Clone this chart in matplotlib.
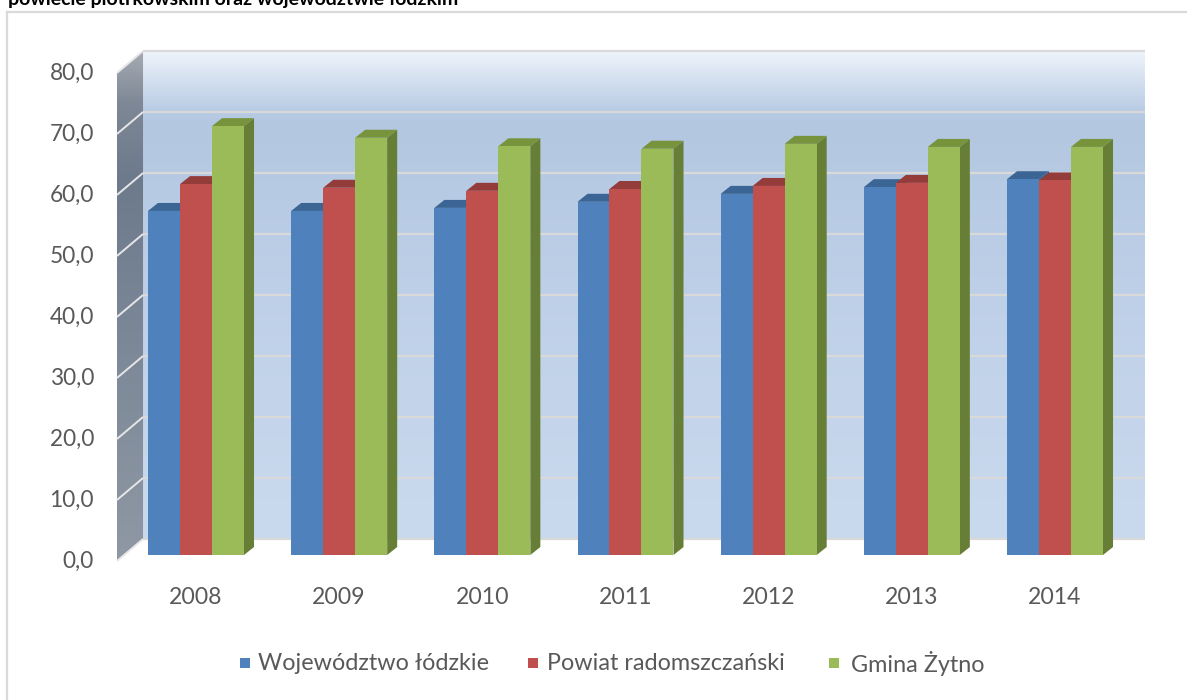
import numpy as np
import matplotlib
matplotlib.use('Agg')
import matplotlib.pyplot as plt
from matplotlib.patches import Polygon, Rectangle
from matplotlib.collections import PolyCollection
from matplotlib.lines import Line2D

# ---------------- data ----------------
years = ['2008', '2009', '2010', '2011', '2012', '2013', '2014']
series_names = ['Województwo łódzkie', 'Powiat radomszczański', 'Gmina Żytno']
wojewodztwo = [56.4, 56.4, 56.9, 57.9, 59.2, 60.3, 61.6]
powiat = [60.8, 60.2, 59.7, 60.0, 60.5, 61.0, 61.4]
gmina = [70.3, 68.4, 67.0, 66.6, 67.4, 66.9, 66.9]
y_ticks = [0, 10, 20, 30, 40, 50, 60, 70, 80]
y_tick_labels = ['0,0', '10,0', '20,0', '30,0', '40,0', '50,0', '60,0', '70,0', '80,0']
title = 'powiecie piotrkowskim oraz województwie łódzkim'

# ---------------- styles ----------------
front_cols = ['#4f81bd', '#c0504d', '#9bbb59']
top_cols = ['#3b6594', '#933c3a', '#77933c']
side_cols = ['#385c87', '#7f3230', '#677e37']
txt_col = '#595959'
FONT = ['Lato', 'DejaVu Sans']
plt.rcParams['font.family'] = FONT

W = 0.2235          # bar width (category units)
DX, DY = 0.070, 1.31  # bar depth offset
FRONT_X, FRONT_Y0 = -0.552, -0.98
BACK_X0, BACK_X1, BACK_Y0 = -0.370, 6.628, 2.62
YMAX = 80

fig = plt.figure(figsize=(11.87, 7.0), dpi=100)
ax = fig.add_axes([0, 0, 1, 1])
ax.set_xlim(-1.369, 6.922)
ax.set_ylim(-23.77, 90.98)
ax.axis('off')

def hex2rgb(h):
    h = h.lstrip('#')
    return [int(h[i:i + 2], 16) / 255 for i in (0, 2, 4)]

def vgrad(stops, n=400):
    fr = np.linspace(0, 1, n)
    cols = np.array([hex2rgb(c) for _, c in stops])
    pos = np.array([p for p, _ in stops])
    arr = np.stack([np.interp(fr, pos, cols[:, k]) for k in range(3)], axis=-1)
    return arr[:, None, :]

# back wall
back_img = vgrad([(0.0, '#cadaee'), (0.5, '#bed0e8'), (0.85, '#b3c7e1'),
                  (0.875, '#b8cbe4'), (1.0, '#eff4fb')])
ax.imshow(back_img, extent=[BACK_X0, BACK_X1, BACK_Y0, BACK_Y0 + YMAX],
          origin='lower', aspect='auto', interpolation='bilinear', zorder=0)

# left side wall
lw_poly = Polygon([(FRONT_X, FRONT_Y0), (BACK_X0, BACK_Y0), (BACK_X0, BACK_Y0 + YMAX),
                   (FRONT_X, FRONT_Y0 + YMAX)], closed=True, facecolor='none',
                  edgecolor='none', transform=ax.transData)
ax.add_patch(lw_poly)
left_img = vgrad([(0.0, '#8f98a4'), (0.45, '#7b8797'), (0.75, '#6d7a8c'),
                  (0.9, '#7e8896'), (1.0, '#a6abb2')])
im2 = ax.imshow(left_img, extent=[FRONT_X, BACK_X0, FRONT_Y0, BACK_Y0 + YMAX],
                origin='lower', aspect='auto', interpolation='bilinear', zorder=0.5)
im2.set_clip_path(lw_poly)

# gridlines
for v in y_ticks:
    ax.plot([BACK_X0, BACK_X1], [BACK_Y0 + v, BACK_Y0 + v], color='#d9d9d9',
            lw=1.6, zorder=1, solid_capstyle='butt')
    ax.plot([FRONT_X, BACK_X0], [FRONT_Y0 + v, BACK_Y0 + v], color='#e6e6e6',
            lw=1.4, zorder=1, solid_capstyle='butt')

# tick labels
for v, lab in zip(y_ticks, y_tick_labels):
    ax.text(-0.712, FRONT_Y0 + v, lab, ha='right', va='center', fontsize=16.3,
            color=txt_col)
for i, yr in enumerate(years):
    ax.text(i, -7.0, yr, ha='center', va='center', fontsize=16.6, color=txt_col)

# bars
series = [wojewodztwo, powiat, gmina]
x = np.arange(len(years))
for j, vals in enumerate(series):
    xs = x + (j - 1) * W
    tops, sides = [], []
    for xc, h in zip(xs, vals):
        x0 = xc - W / 2
        tops.append([(x0, h), (x0 + W, h), (x0 + W + DX, h + DY), (x0 + DX, h + DY)])
        sides.append([(x0 + W, 0), (x0 + W, h), (x0 + W + DX, h + DY), (x0 + W + DX, DY)])
    ax.add_collection(PolyCollection(sides, facecolors=side_cols[j], edgecolors='none',
                                     zorder=2 + j * 0.01))
    ax.add_collection(PolyCollection(tops, facecolors=top_cols[j], edgecolors='none',
                                     zorder=3 + j * 0.01))
    ax.bar(xs, vals, width=W, color=front_cols[j], zorder=4 + j * 0.01, linewidth=0)

# legend (manual, pixel based)
FW, FH = 1187, 700
leg_sq = [240, 528, 829]
leg_tx = [258, 547, 851]
for j in range(3):
    fig.patches.append(Rectangle((leg_sq[j] / FW, 1 - 668 / FH), 10 / FW, 10 / FH,
                                 transform=fig.transFigure, facecolor=front_cols[j],
                                 edgecolor='none'))
    fig.text(leg_tx[j] / FW, 1 - 663 / FH, series_names[j], ha='left', va='center',
             fontsize=16.8, color=txt_col)

# outer border
fig.add_artist(Line2D([7 / FW, 7 / FW], [0, 1 - 12 / FH], transform=fig.transFigure,
                      color='#d9d9d9', lw=1.6))
fig.add_artist(Line2D([7 / FW, 1], [1 - 12 / FH, 1 - 12 / FH], transform=fig.transFigure,
                      color='#d9d9d9', lw=1.6))

# cut-off title (partially outside, as in the reference)
fig.text(8 / FW, 1 - 5 / FH, title, ha='left', va='baseline', fontsize=14,
         fontweight='bold', color='#000000')

fig.savefig('out.png', dpi=100)
